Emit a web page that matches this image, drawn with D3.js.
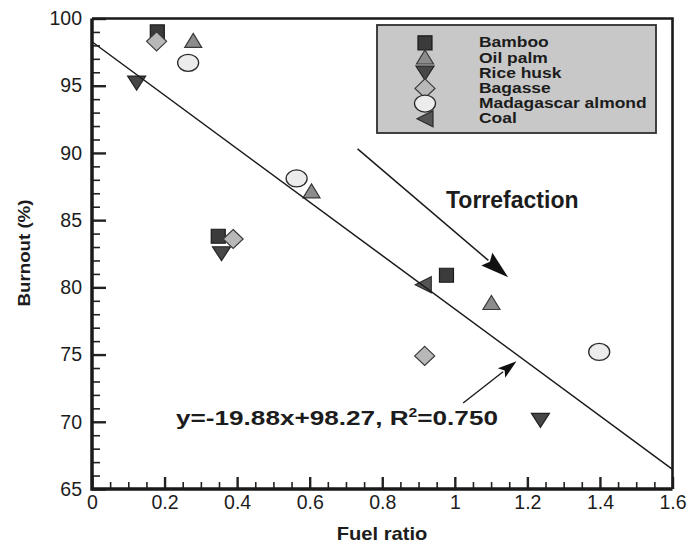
<!DOCTYPE html>
<html>
<head>
<meta charset="utf-8">
<script src="https://cdn.jsdelivr.net/npm/d3@7"></script>
<style>
  body { margin: 0; background: #fff; }
  text { font-family: "Liberation Sans", Arial, sans-serif; fill: #1c1c1c; }
</style>
</head>
<body>
<div id="chart"></div>
<script>
// donnees
const species = ["Bamboo", "Oil palm", "Rice husk", "Bagasse", "Madagascar almond", "Coal"];
const fuelRatio = [
  [0.180, 0.348, 0.977],
  [0.279, 0.605, 1.101],
  [0.123, 0.357, 1.236],
  [0.178, 0.389, 0.917],
  [0.265, 0.564, 1.398],
  [0.913]
];
const burnout = [
  [99.0, 83.8, 80.9],
  [98.3, 87.1, 78.8],
  [95.2, 82.5, 70.1],
  [98.3, 83.6, 74.9],
  [96.7, 88.1, 75.2],
  [80.2]
];
const fitSlope = -19.88, fitIntercept = 98.27;
const fitRange = [0, 1.6];
const xTicks = [0, 0.2, 0.4, 0.6, 0.8, 1, 1.2, 1.4, 1.6];
const xTickLabels = ["0", "0.2", "0.4", "0.6", "0.8", "1", "1.2", "1.4", "1.6"];
const yTicks = [65, 70, 75, 80, 85, 90, 95, 100];
const yTickLabels = ["65", "70", "75", "80", "85", "90", "95", "100"];
// fleches d'annotation : [x0, y0, x1, y1] en unites des axes
const torrefactionArrow = [0.732, 90.3, 1.147, 80.75];
const equationArrow = [1.023, 71.4, 1.170, 74.5];

const W = 687, H = 543;
const svg = d3.select("#chart").append("svg")
  .attr("width", W).attr("height", H);

const x = d3.scaleLinear().domain([0, 1.6]).range([92, 672.5]);
const y = d3.scaleLinear().domain([65, 100]).range([489, 18.5]);

// formes des symboles
const shapes = {
  "Bamboo": { d: "M-7,-7H7V7H-7Z", fill: "#3b3b3b", stroke: "#1a1a1a" },
  "Oil palm": { d: "M0,-8L8.5,6L-8.5,6Z", fill: "#8c8c8c", stroke: "#3a3a3a" },
  "Rice husk": { d: "M-9,-7L9,-7L0,7Z", fill: "#474747", stroke: "#222" },
  "Bagasse": { d: "M0,-9.5L10,0L0,9.5L-10,0Z", fill: "#b8b8b8", stroke: "#3a3a3a" },
  "Madagascar almond": { ellipse: true, fill: "#ececec", stroke: "#2a2a2a" },
  "Coal": { d: "M-8,0L8,-8L8,8Z", fill: "#555", stroke: "#2a2a2a" }
};

function drawSymbol(g, name, cx, cy) {
  const s = shapes[name];
  if (s.ellipse) {
    g.append("ellipse").attr("cx", cx).attr("cy", cy)
      .attr("rx", 10.5).attr("ry", 8.5)
      .style("fill", s.fill).style("stroke", s.stroke).style("stroke-width", 1.3);
  } else {
    g.append("path").attr("d", s.d)
      .attr("transform", "translate(" + cx + "," + cy + ")")
      .style("fill", s.fill).style("stroke", s.stroke).style("stroke-width", 1.2);
  }
}

// axe y
const yMinor = d3.range(65, 100, 1).filter((v) => v % 5 !== 0);
svg.append("g")
  .attr("transform", "translate(" + x(0) + ",0)")
  .call(d3.axisLeft(y).tickValues(yMinor).tickSize(-8).tickFormat(""))
  .call((g) => g.select(".domain").remove())
  .selectAll("line").style("stroke", "#222").style("stroke-width", 1.6);

svg.append("g")
  .attr("transform", "translate(" + x(0) + ",0)")
  .call(d3.axisLeft(y).tickValues(yTicks).tickSize(-14).tickPadding(10)
    .tickFormat((d, i) => yTickLabels[i]))
  .call((g) => g.select(".domain").remove())
  .call((g) => g.selectAll("line").style("stroke", "#222").style("stroke-width", 2.4))
  .selectAll("text").style("font-size", "19.5px");

// axe x
const xMinor = d3.range(0, 32).map((i) => i * 0.05).filter((v, i) => i % 4 !== 0);
svg.append("g")
  .attr("transform", "translate(0," + y(65) + ")")
  .call(d3.axisBottom(x).tickValues(xMinor).tickSize(-7).tickFormat(""))
  .call((g) => g.select(".domain").remove())
  .selectAll("line").style("stroke", "#222").style("stroke-width", 1.6);

svg.append("g")
  .attr("transform", "translate(0," + y(65) + ")")
  .call(d3.axisBottom(x).tickValues(xTicks).tickSize(-12).tickPadding(6)
    .tickFormat((d, i) => xTickLabels[i]))
  .call((g) => g.select(".domain").remove())
  .call((g) => g.selectAll("line").style("stroke", "#222").style("stroke-width", 2.4))
  .selectAll("text").style("font-size", "19.5px");

// cadre
svg.append("path")
  .attr("d", "M" + x(0) + "," + y(100) + "H" + x(1.6) + "V" + y(65))
  .style("fill", "none").style("stroke", "#1a1a1a").style("stroke-width", 2.6);
svg.append("path")
  .attr("d", "M" + x(0) + "," + y(100) + "V" + y(65) + "H" + x(1.6))
  .style("fill", "none").style("stroke", "#1a1a1a").style("stroke-width", 3.5);

// titres des axes
svg.append("text")
  .attr("transform", "translate(382,540) scale(1.12,1)")
  .attr("text-anchor", "middle")
  .style("font-weight", "bold").style("font-size", "18px")
  .text("Fuel ratio");

svg.append("text")
  .attr("transform", "translate(30,253) rotate(-90) scale(1.1,1)")
  .attr("text-anchor", "middle")
  .style("font-weight", "bold").style("font-size", "17px")
  .text("Burnout (%)");

// symboles
const pts = svg.append("g");
species.forEach(function (name, k) {
  fuelRatio[k].forEach(function (fr, j) {
    drawSymbol(pts, name, x(fr), y(burnout[k][j]));
  });
});

// droite de regression
svg.append("line")
  .attr("x1", x(fitRange[0])).attr("y1", y(fitIntercept + fitSlope * fitRange[0]))
  .attr("x2", x(fitRange[1])).attr("y2", y(fitIntercept + fitSlope * fitRange[1]))
  .style("stroke", "#1a1a1a").style("stroke-width", 1.5);

// fleches
function arrow(a, headLen, headHalf, lw) {
  const x0 = x(a[0]), y0 = y(a[1]), x1 = x(a[2]), y1 = y(a[3]);
  const L = Math.hypot(x1 - x0, y1 - y0);
  const ux = (x1 - x0) / L, uy = (y1 - y0) / L;
  const bx = x1 - ux * headLen, by = y1 - uy * headLen;
  svg.append("line")
    .attr("x1", x0).attr("y1", y0).attr("x2", bx + ux * 2).attr("y2", by + uy * 2)
    .style("stroke", "#1a1a1a").style("stroke-width", lw);
  svg.append("path")
    .attr("d", "M" + x1 + "," + y1 +
      "L" + (bx - uy * headHalf) + "," + (by + ux * headHalf) +
      "L" + (bx + ux * 4) + "," + (by + uy * 4) +
      "L" + (bx + uy * headHalf) + "," + (by - ux * headHalf) + "Z")
    .style("fill", "#111");
}
arrow(torrefactionArrow, 28, 8.5, 1.5);
arrow(equationArrow, 19, 6, 1.4);

svg.append("text")
  .attr("x", 446).attr("y", 208)
  .style("font-weight", "bold").style("font-size", "23px")
  .text("Torrefaction");

const eq = svg.append("text")
  .attr("x", 176).attr("y", 425)
  .attr("textLength", 322).attr("lengthAdjust", "spacingAndGlyphs")
  .style("font-weight", "bold").style("font-size", "20px");
eq.append("tspan").text("y=-19.88x+98.27, R");
eq.append("tspan").attr("dy", -8).style("font-size", "12px").text("2");
eq.append("tspan").attr("dy", 8).text("=0.750");

// legende
const leg = svg.append("g");
leg.append("rect")
  .attr("x", 377).attr("y", 25).attr("width", 279).attr("height", 108)
  .style("fill", "#c8c8c8").style("stroke", "#2e2e2e").style("stroke-width", 1.8);
species.forEach(function (name, k) {
  const base = 47.3 + k * 15.2;
  drawSymbol(leg, name, 425, base - 4.5);
  leg.append("text")
    .attr("transform", "translate(479," + base + ") scale(1.22,1)")
    .style("font-weight", "bold").style("font-size", "14.3px")
    .text(name);
});
</script>
</body>
</html>
